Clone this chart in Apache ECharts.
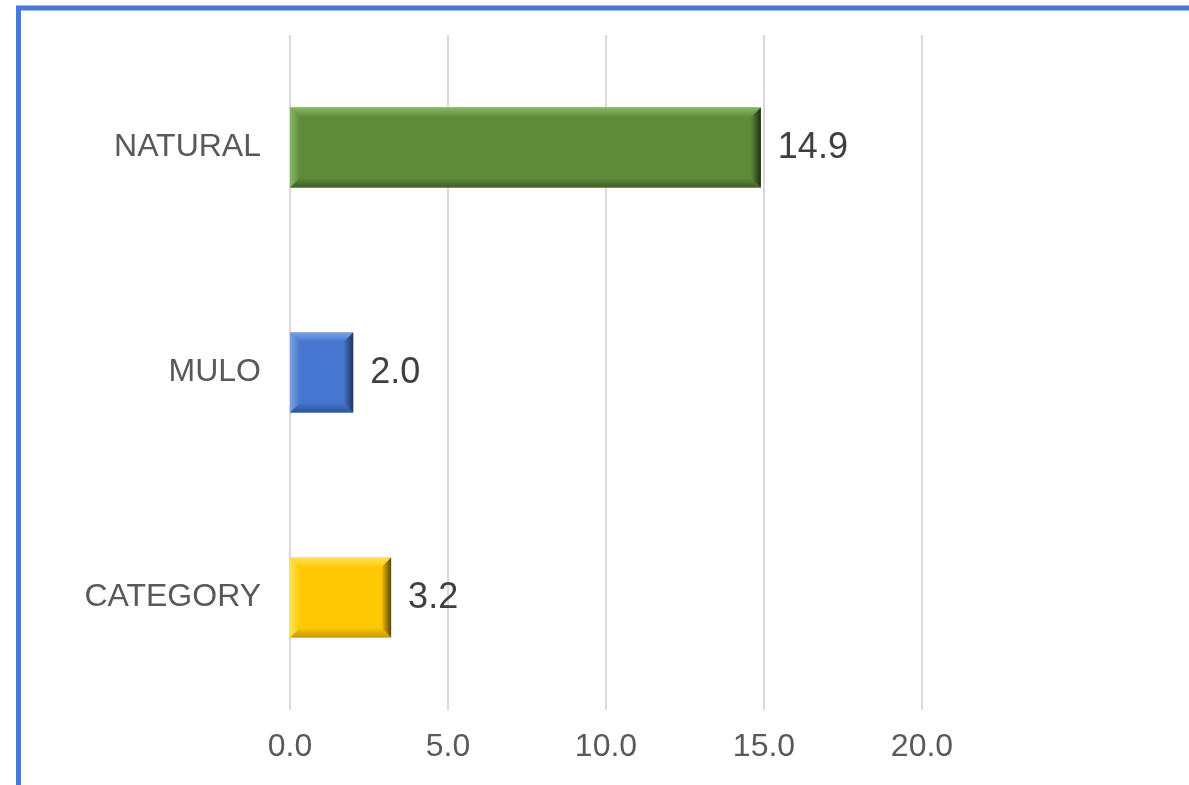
<!DOCTYPE html>
<html>
<head>
<meta charset="utf-8">
<script src="https://cdn.jsdelivr.net/npm/echarts@6/dist/echarts.min.js"></script>
<style>html,body{margin:0;padding:0;background:#fff;}#c{width:1189px;height:785px;}</style>
</head>
<body>
<div id="c"></div>
<script>
const categories = ['CATEGORY', 'MULO', 'NATURAL'];
const values = [3.2, 2.0, 14.9];
const barColors = [
  {base: '#FFC804', light: '#FFE25A', dark: '#C49A00', edge: '#5A4600'},
  {base: '#4676CF', light: '#7AA2E8', dark: '#2F5496', edge: '#1D3563'},
  {base: '#5E8C3A', light: '#86B962', dark: '#3F5E28', edge: '#1F3012'}
];
const xTicks = [0, 5, 10, 15, 20];

const chart = echarts.init(document.getElementById('c'));

function renderItem(params, api) {
  const idx = api.value(0);
  const val = api.value(1);
  const p0 = api.coord([0, idx]);
  const p1 = api.coord([val, idx]);
  const band = api.size([0, 1])[1];
  const h = band * 0.356;
  const x0 = p0[0], x1 = p1[0];
  const y0 = p0[1] - h / 2, y1 = p0[1] + h / 2;
  const b = 10;
  const c = barColors[idx];
  return {
    type: 'group',
    children: [
      {type: 'rect', shape: {x: x0, y: y0, width: x1 - x0, height: h}, style: {fill: c.base}},
      {type: 'polygon', shape: {points: [[x0, y0], [x1, y0], [x1 - b, y0 + b], [x0 + b, y0 + b]]},
        style: {fill: new echarts.graphic.LinearGradient(0, 0, 0, 1, [{offset: 0, color: c.light}, {offset: 1, color: c.base}])}},
      {type: 'polygon', shape: {points: [[x0, y1], [x1, y1], [x1 - b, y1 - b], [x0 + b, y1 - b]]},
        style: {fill: new echarts.graphic.LinearGradient(0, 0, 0, 1, [{offset: 0, color: c.base}, {offset: 1, color: c.dark}])}},
      {type: 'polygon', shape: {points: [[x0, y0], [x0 + b, y0 + b], [x0 + b, y1 - b], [x0, y1]]},
        style: {fill: new echarts.graphic.LinearGradient(0, 0, 1, 0, [{offset: 0, color: c.light}, {offset: 1, color: c.base}])}},
      {type: 'polygon', shape: {points: [[x1, y0], [x1 - b, y0 + b], [x1 - b, y1 - b], [x1, y1]]},
        style: {fill: new echarts.graphic.LinearGradient(0, 0, 1, 0, [{offset: 0, color: c.base}, {offset: 1, color: c.edge}])}},
      {type: 'text', style: {text: val.toFixed(1), x: x1 + 17, y: p0[1] + 1, fill: '#404040',
        font: '36px Arial, "Liberation Sans", sans-serif', verticalAlign: 'middle', align: 'left'}}
    ]
  };
}

chart.setOption({
  backgroundColor: '#ffffff',
  animation: false,
  graphic: [{
    type: 'rect', silent: true, z: 100,
    shape: {x: 18.5, y: 8, width: 1300, height: 900},
    style: {fill: 'none', stroke: '#4A7BD4', lineWidth: 5}
  }],
  grid: {left: 290, right: 267, top: 35, bottom: 75, containLabel: false},
  xAxis: {
    type: 'value', min: 0, max: 20, interval: 5,
    axisLine: {show: false}, axisTick: {show: false},
    splitLine: {show: true, lineStyle: {color: '#D9D9D9', width: 2}},
    axisLabel: {margin: 21, color: '#595959', fontSize: 32, fontFamily: 'Arial, "Liberation Sans", sans-serif',
      formatter: v => xTicks.includes(v) ? v.toFixed(1) : ''}
  },
  yAxis: {
    type: 'category', data: categories,
    axisLine: {show: false}, axisTick: {show: false},
    axisLabel: {margin: 29, color: '#595959', fontSize: 32, fontFamily: 'Arial, "Liberation Sans", sans-serif'}
  },
  series: [{
    type: 'custom',
    renderItem: renderItem,
    encode: {x: 1, y: 0},
    data: values.map((v, i) => [i, v]),
    clip: false
  }]
});
</script>
</body>
</html>
